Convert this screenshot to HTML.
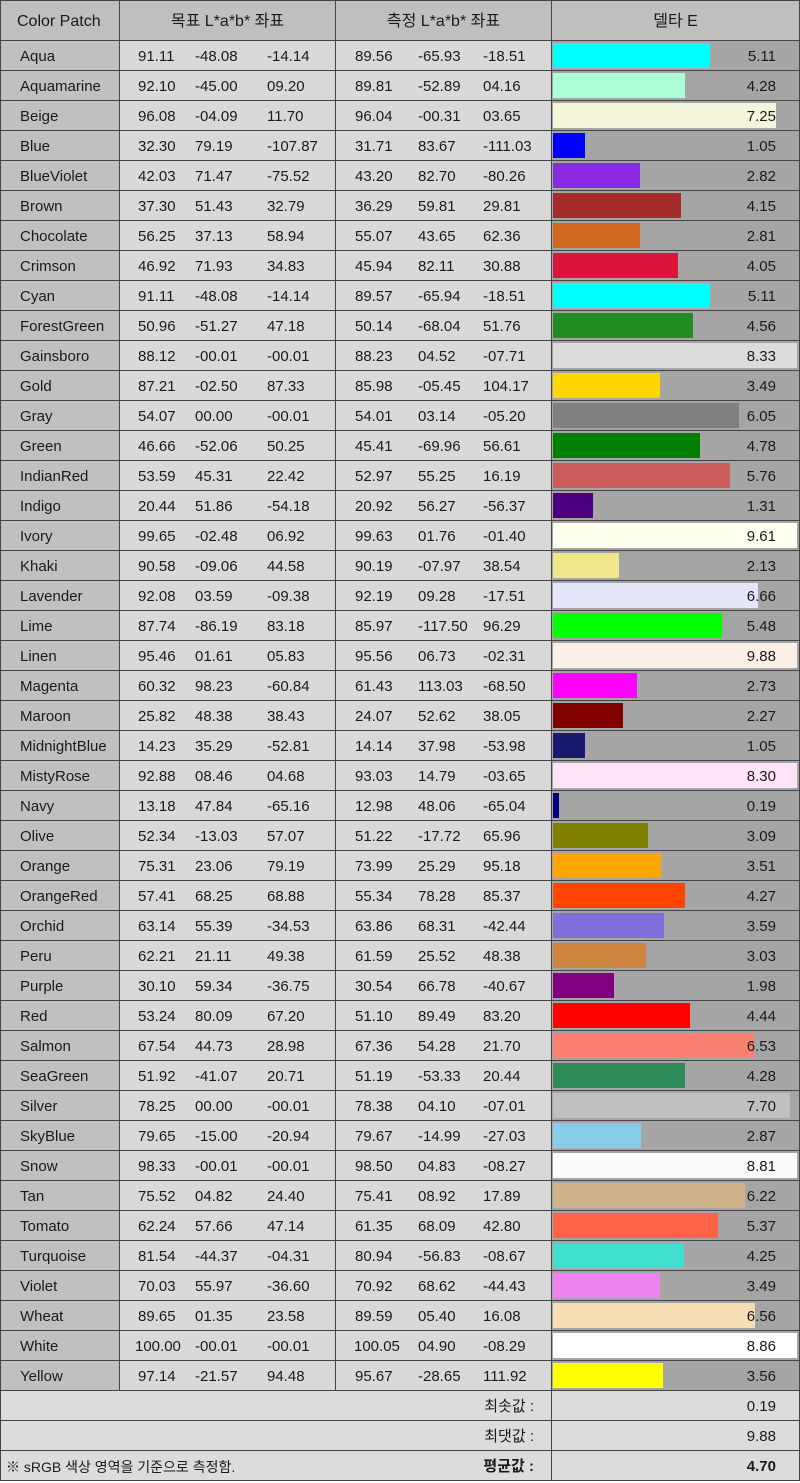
<!DOCTYPE html>
<html><head><meta charset="utf-8"><style>
body{margin:0;width:800px;height:1481px;background:#fff;font-family:"Liberation Sans","Noto Sans CJK KR",sans-serif;font-size:15px;color:#1a1a1a;overflow:hidden}
#t{position:absolute;left:0;top:0;width:800px;border-top:1px solid #444;box-sizing:border-box}
.r{position:relative;height:30px;border-bottom:1px solid #444;box-sizing:border-box;display:flex}
.h{height:40px;background:#bfbfbf;font-size:16px}
.c{position:relative;height:100%;box-sizing:border-box;border-right:1px solid #444;line-height:32px}
.n{width:120px;background:#c0c0c0;padding-left:19px;border-left:1px solid #444}
.t,.m{width:216px;background:#d9d9d9}
.d{width:248px;background:#a5a5a5;border-right:1px solid #444}
.c span{position:absolute;top:0}
.t span:nth-child(1){left:18px}.t span:nth-child(2){left:75px}.t span:nth-child(3){left:147px}
.m span:nth-child(1){left:19px}.m span:nth-child(2){left:82px}.m span:nth-child(3){left:147px}
.b{position:absolute;left:1px;top:2px;height:25px}
.v{position:absolute;right:23px;top:0}
.h .c{text-align:center;line-height:41px;background:#bfbfbf;padding:0}
.f{background:#dcdcdc}
.f .l{width:552px;border-left:1px solid #444;border-right:1px solid #444;position:relative}
.f .l .k{position:absolute;right:17px;top:0}
.f .rr{width:248px;border-right:1px solid #444;position:relative}
</style></head><body><div id="t">
<div class="r h"><div class="c n" style="text-align:left;padding-left:16px">Color Patch</div><div class="c t">목표 L*a*b* 좌표</div><div class="c m">측정 L*a*b* 좌표</div><div class="c d">델타 E</div></div>
<div class="r"><div class="c n">Aqua</div><div class="c t"><span>91.11</span><span>-48.08</span><span>-14.14</span></div><div class="c m"><span>89.56</span><span>-65.93</span><span>-18.51</span></div><div class="c d"><div class="b" style="width:157px;background:#00ffff"></div><span class="v">5.11</span></div></div>
<div class="r"><div class="c n">Aquamarine</div><div class="c t"><span>92.10</span><span>-45.00</span><span>09.20</span></div><div class="c m"><span>89.81</span><span>-52.89</span><span>04.16</span></div><div class="c d"><div class="b" style="width:132px;background:#adffd8"></div><span class="v">4.28</span></div></div>
<div class="r"><div class="c n">Beige</div><div class="c t"><span>96.08</span><span>-04.09</span><span>11.70</span></div><div class="c m"><span>96.04</span><span>-00.31</span><span>03.65</span></div><div class="c d"><div class="b" style="width:223px;background:#f5f5dc"></div><span class="v">7.25</span></div></div>
<div class="r"><div class="c n">Blue</div><div class="c t"><span>32.30</span><span>79.19</span><span>-107.87</span></div><div class="c m"><span>31.71</span><span>83.67</span><span>-111.03</span></div><div class="c d"><div class="b" style="width:32px;background:#0000ff"></div><span class="v">1.05</span></div></div>
<div class="r"><div class="c n">BlueViolet</div><div class="c t"><span>42.03</span><span>71.47</span><span>-75.52</span></div><div class="c m"><span>43.20</span><span>82.70</span><span>-80.26</span></div><div class="c d"><div class="b" style="width:87px;background:#8a2be2"></div><span class="v">2.82</span></div></div>
<div class="r"><div class="c n">Brown</div><div class="c t"><span>37.30</span><span>51.43</span><span>32.79</span></div><div class="c m"><span>36.29</span><span>59.81</span><span>29.81</span></div><div class="c d"><div class="b" style="width:128px;background:#a52a2a"></div><span class="v">4.15</span></div></div>
<div class="r"><div class="c n">Chocolate</div><div class="c t"><span>56.25</span><span>37.13</span><span>58.94</span></div><div class="c m"><span>55.07</span><span>43.65</span><span>62.36</span></div><div class="c d"><div class="b" style="width:87px;background:#d2691e"></div><span class="v">2.81</span></div></div>
<div class="r"><div class="c n">Crimson</div><div class="c t"><span>46.92</span><span>71.93</span><span>34.83</span></div><div class="c m"><span>45.94</span><span>82.11</span><span>30.88</span></div><div class="c d"><div class="b" style="width:125px;background:#dc143c"></div><span class="v">4.05</span></div></div>
<div class="r"><div class="c n">Cyan</div><div class="c t"><span>91.11</span><span>-48.08</span><span>-14.14</span></div><div class="c m"><span>89.57</span><span>-65.94</span><span>-18.51</span></div><div class="c d"><div class="b" style="width:157px;background:#00ffff"></div><span class="v">5.11</span></div></div>
<div class="r"><div class="c n">ForestGreen</div><div class="c t"><span>50.96</span><span>-51.27</span><span>47.18</span></div><div class="c m"><span>50.14</span><span>-68.04</span><span>51.76</span></div><div class="c d"><div class="b" style="width:140px;background:#228b22"></div><span class="v">4.56</span></div></div>
<div class="r"><div class="c n">Gainsboro</div><div class="c t"><span>88.12</span><span>-00.01</span><span>-00.01</span></div><div class="c m"><span>88.23</span><span>04.52</span><span>-07.71</span></div><div class="c d"><div class="b" style="width:244px;background:#dcdcdc"></div><span class="v">8.33</span></div></div>
<div class="r"><div class="c n">Gold</div><div class="c t"><span>87.21</span><span>-02.50</span><span>87.33</span></div><div class="c m"><span>85.98</span><span>-05.45</span><span>104.17</span></div><div class="c d"><div class="b" style="width:107px;background:#ffd700"></div><span class="v">3.49</span></div></div>
<div class="r"><div class="c n">Gray</div><div class="c t"><span>54.07</span><span>00.00</span><span>-00.01</span></div><div class="c m"><span>54.01</span><span>03.14</span><span>-05.20</span></div><div class="c d"><div class="b" style="width:186px;background:#808080"></div><span class="v">6.05</span></div></div>
<div class="r"><div class="c n">Green</div><div class="c t"><span>46.66</span><span>-52.06</span><span>50.25</span></div><div class="c m"><span>45.41</span><span>-69.96</span><span>56.61</span></div><div class="c d"><div class="b" style="width:147px;background:#008000"></div><span class="v">4.78</span></div></div>
<div class="r"><div class="c n">IndianRed</div><div class="c t"><span>53.59</span><span>45.31</span><span>22.42</span></div><div class="c m"><span>52.97</span><span>55.25</span><span>16.19</span></div><div class="c d"><div class="b" style="width:177px;background:#cd5c5c"></div><span class="v">5.76</span></div></div>
<div class="r"><div class="c n">Indigo</div><div class="c t"><span>20.44</span><span>51.86</span><span>-54.18</span></div><div class="c m"><span>20.92</span><span>56.27</span><span>-56.37</span></div><div class="c d"><div class="b" style="width:40px;background:#4b0082"></div><span class="v">1.31</span></div></div>
<div class="r"><div class="c n">Ivory</div><div class="c t"><span>99.65</span><span>-02.48</span><span>06.92</span></div><div class="c m"><span>99.63</span><span>01.76</span><span>-01.40</span></div><div class="c d"><div class="b" style="width:244px;background:#fffff0"></div><span class="v">9.61</span></div></div>
<div class="r"><div class="c n">Khaki</div><div class="c t"><span>90.58</span><span>-09.06</span><span>44.58</span></div><div class="c m"><span>90.19</span><span>-07.97</span><span>38.54</span></div><div class="c d"><div class="b" style="width:66px;background:#f0e68c"></div><span class="v">2.13</span></div></div>
<div class="r"><div class="c n">Lavender</div><div class="c t"><span>92.08</span><span>03.59</span><span>-09.38</span></div><div class="c m"><span>92.19</span><span>09.28</span><span>-17.51</span></div><div class="c d"><div class="b" style="width:205px;background:#e6e6fa"></div><span class="v">6.66</span></div></div>
<div class="r"><div class="c n">Lime</div><div class="c t"><span>87.74</span><span>-86.19</span><span>83.18</span></div><div class="c m"><span>85.97</span><span>-117.50</span><span>96.29</span></div><div class="c d"><div class="b" style="width:169px;background:#00ff00"></div><span class="v">5.48</span></div></div>
<div class="r"><div class="c n">Linen</div><div class="c t"><span>95.46</span><span>01.61</span><span>05.83</span></div><div class="c m"><span>95.56</span><span>06.73</span><span>-02.31</span></div><div class="c d"><div class="b" style="width:244px;background:#faf0e6"></div><span class="v">9.88</span></div></div>
<div class="r"><div class="c n">Magenta</div><div class="c t"><span>60.32</span><span>98.23</span><span>-60.84</span></div><div class="c m"><span>61.43</span><span>113.03</span><span>-68.50</span></div><div class="c d"><div class="b" style="width:84px;background:#ff00ff"></div><span class="v">2.73</span></div></div>
<div class="r"><div class="c n">Maroon</div><div class="c t"><span>25.82</span><span>48.38</span><span>38.43</span></div><div class="c m"><span>24.07</span><span>52.62</span><span>38.05</span></div><div class="c d"><div class="b" style="width:70px;background:#800000"></div><span class="v">2.27</span></div></div>
<div class="r"><div class="c n">MidnightBlue</div><div class="c t"><span>14.23</span><span>35.29</span><span>-52.81</span></div><div class="c m"><span>14.14</span><span>37.98</span><span>-53.98</span></div><div class="c d"><div class="b" style="width:32px;background:#191970"></div><span class="v">1.05</span></div></div>
<div class="r"><div class="c n">MistyRose</div><div class="c t"><span>92.88</span><span>08.46</span><span>04.68</span></div><div class="c m"><span>93.03</span><span>14.79</span><span>-03.65</span></div><div class="c d"><div class="b" style="width:244px;background:#ffe4f8"></div><span class="v">8.30</span></div></div>
<div class="r"><div class="c n">Navy</div><div class="c t"><span>13.18</span><span>47.84</span><span>-65.16</span></div><div class="c m"><span>12.98</span><span>48.06</span><span>-65.04</span></div><div class="c d"><div class="b" style="width:6px;background:#000080"></div><span class="v">0.19</span></div></div>
<div class="r"><div class="c n">Olive</div><div class="c t"><span>52.34</span><span>-13.03</span><span>57.07</span></div><div class="c m"><span>51.22</span><span>-17.72</span><span>65.96</span></div><div class="c d"><div class="b" style="width:95px;background:#808000"></div><span class="v">3.09</span></div></div>
<div class="r"><div class="c n">Orange</div><div class="c t"><span>75.31</span><span>23.06</span><span>79.19</span></div><div class="c m"><span>73.99</span><span>25.29</span><span>95.18</span></div><div class="c d"><div class="b" style="width:108px;background:#ffa500"></div><span class="v">3.51</span></div></div>
<div class="r"><div class="c n">OrangeRed</div><div class="c t"><span>57.41</span><span>68.25</span><span>68.88</span></div><div class="c m"><span>55.34</span><span>78.28</span><span>85.37</span></div><div class="c d"><div class="b" style="width:132px;background:#ff4500"></div><span class="v">4.27</span></div></div>
<div class="r"><div class="c n">Orchid</div><div class="c t"><span>63.14</span><span>55.39</span><span>-34.53</span></div><div class="c m"><span>63.86</span><span>68.31</span><span>-42.44</span></div><div class="c d"><div class="b" style="width:111px;background:#8170db"></div><span class="v">3.59</span></div></div>
<div class="r"><div class="c n">Peru</div><div class="c t"><span>62.21</span><span>21.11</span><span>49.38</span></div><div class="c m"><span>61.59</span><span>25.52</span><span>48.38</span></div><div class="c d"><div class="b" style="width:93px;background:#cd853f"></div><span class="v">3.03</span></div></div>
<div class="r"><div class="c n">Purple</div><div class="c t"><span>30.10</span><span>59.34</span><span>-36.75</span></div><div class="c m"><span>30.54</span><span>66.78</span><span>-40.67</span></div><div class="c d"><div class="b" style="width:61px;background:#800080"></div><span class="v">1.98</span></div></div>
<div class="r"><div class="c n">Red</div><div class="c t"><span>53.24</span><span>80.09</span><span>67.20</span></div><div class="c m"><span>51.10</span><span>89.49</span><span>83.20</span></div><div class="c d"><div class="b" style="width:137px;background:#ff0000"></div><span class="v">4.44</span></div></div>
<div class="r"><div class="c n">Salmon</div><div class="c t"><span>67.54</span><span>44.73</span><span>28.98</span></div><div class="c m"><span>67.36</span><span>54.28</span><span>21.70</span></div><div class="c d"><div class="b" style="width:201px;background:#fa8072"></div><span class="v">6.53</span></div></div>
<div class="r"><div class="c n">SeaGreen</div><div class="c t"><span>51.92</span><span>-41.07</span><span>20.71</span></div><div class="c m"><span>51.19</span><span>-53.33</span><span>20.44</span></div><div class="c d"><div class="b" style="width:132px;background:#2e8b57"></div><span class="v">4.28</span></div></div>
<div class="r"><div class="c n">Silver</div><div class="c t"><span>78.25</span><span>00.00</span><span>-00.01</span></div><div class="c m"><span>78.38</span><span>04.10</span><span>-07.01</span></div><div class="c d"><div class="b" style="width:237px;background:#c0c0c0"></div><span class="v">7.70</span></div></div>
<div class="r"><div class="c n">SkyBlue</div><div class="c t"><span>79.65</span><span>-15.00</span><span>-20.94</span></div><div class="c m"><span>79.67</span><span>-14.99</span><span>-27.03</span></div><div class="c d"><div class="b" style="width:88px;background:#87ceeb"></div><span class="v">2.87</span></div></div>
<div class="r"><div class="c n">Snow</div><div class="c t"><span>98.33</span><span>-00.01</span><span>-00.01</span></div><div class="c m"><span>98.50</span><span>04.83</span><span>-08.27</span></div><div class="c d"><div class="b" style="width:244px;background:#fafafa"></div><span class="v">8.81</span></div></div>
<div class="r"><div class="c n">Tan</div><div class="c t"><span>75.52</span><span>04.82</span><span>24.40</span></div><div class="c m"><span>75.41</span><span>08.92</span><span>17.89</span></div><div class="c d"><div class="b" style="width:192px;background:#d2b48c"></div><span class="v">6.22</span></div></div>
<div class="r"><div class="c n">Tomato</div><div class="c t"><span>62.24</span><span>57.66</span><span>47.14</span></div><div class="c m"><span>61.35</span><span>68.09</span><span>42.80</span></div><div class="c d"><div class="b" style="width:165px;background:#ff6347"></div><span class="v">5.37</span></div></div>
<div class="r"><div class="c n">Turquoise</div><div class="c t"><span>81.54</span><span>-44.37</span><span>-04.31</span></div><div class="c m"><span>80.94</span><span>-56.83</span><span>-08.67</span></div><div class="c d"><div class="b" style="width:131px;background:#40e0d0"></div><span class="v">4.25</span></div></div>
<div class="r"><div class="c n">Violet</div><div class="c t"><span>70.03</span><span>55.97</span><span>-36.60</span></div><div class="c m"><span>70.92</span><span>68.62</span><span>-44.43</span></div><div class="c d"><div class="b" style="width:107px;background:#ee82ee"></div><span class="v">3.49</span></div></div>
<div class="r"><div class="c n">Wheat</div><div class="c t"><span>89.65</span><span>01.35</span><span>23.58</span></div><div class="c m"><span>89.59</span><span>05.40</span><span>16.08</span></div><div class="c d"><div class="b" style="width:202px;background:#f5deb3"></div><span class="v">6.56</span></div></div>
<div class="r"><div class="c n">White</div><div class="c t"><span style="left:15px">100.00</span><span>-00.01</span><span>-00.01</span></div><div class="c m"><span style="left:18px">100.05</span><span>04.90</span><span>-08.29</span></div><div class="c d"><div class="b" style="width:244px;background:#ffffff"></div><span class="v">8.86</span></div></div>
<div class="r"><div class="c n">Yellow</div><div class="c t"><span>97.14</span><span>-21.57</span><span>94.48</span></div><div class="c m"><span>95.67</span><span>-28.65</span><span>111.92</span></div><div class="c d"><div class="b" style="width:110px;background:#ffff00"></div><span class="v">3.56</span></div></div>
<div class="r f"><div class="c l"><span class="k">최솟값 :</span></div><div class="c rr"><span class="v">0.19</span></div></div>
<div class="r f"><div class="c l"><span class="k">최댓값 :</span></div><div class="c rr"><span class="v">9.88</span></div></div>
<div class="r f" style="font-weight:bold"><div class="c l"><span style="left:5px;font-weight:normal;font-size:14px">※ sRGB 색상 영역을 기준으로 측정함.</span><span class="k">평균값 :</span></div><div class="c rr"><span class="v">4.70</span></div></div>
</div></body></html>
